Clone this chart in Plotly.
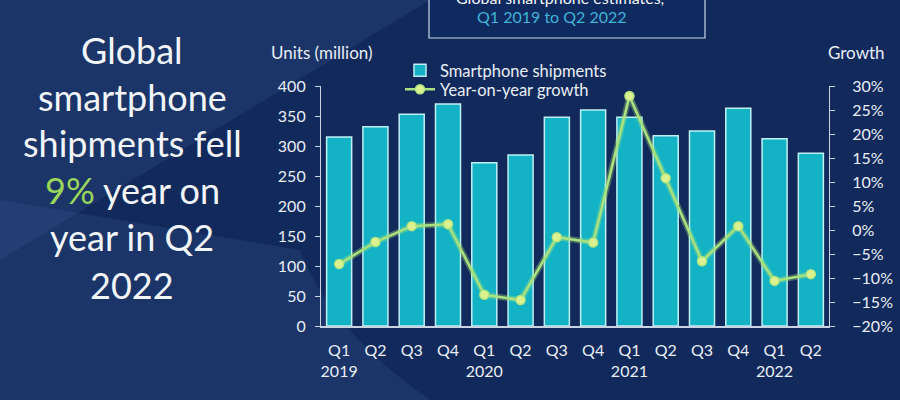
import plotly.graph_objects as go

quarters = ["Q1", "Q2", "Q3", "Q4", "Q1", "Q2", "Q3", "Q4", "Q1", "Q2", "Q3", "Q4", "Q1", "Q2"]
years = ["2019", "", "", "", "2020", "", "", "", "2021", "", "", "", "2022", ""]
shipments = [315, 332, 353, 370, 272, 285, 348, 360, 348, 317, 325, 363, 312, 288]
growth = [-7.1, -2.5, 0.8, 1.2, -13.5, -14.6, -1.5, -2.6, 27.9, 10.8, -6.5, 0.8, -10.6, -9.2]

cats = list(range(len(quarters)))
ticktext = [q + ("<br>" + y if y else "") for q, y in zip(quarters, years)]

W, H = 900, 400
L, R, T, B = 321, 829, 86, 326  # plot area pixel bounds


def px(x):
    return (x - L) / (R - L)


def py(y):
    return (B - y) / (B - T)


FONT = "Lato, Open Sans, sans-serif"
TXT = "#e8eef6"

fig = go.Figure()
fig.add_trace(go.Bar(
    x=cats, y=shipments, name="Smartphone shipments",
    marker=dict(color="#13b3c5", line=dict(color="#bff0f7", width=1.5)),
    yaxis="y", legend="legend",
))
# glow under growth line
fig.add_trace(go.Scatter(
    x=cats, y=growth, yaxis="y2", mode="lines", showlegend=False, hoverinfo="skip",
    line=dict(color="rgba(170,230,120,0.35)", width=6),
))
fig.add_trace(go.Scatter(
    x=cats, y=growth, name="Year-on-year growth", yaxis="y2", mode="lines+markers",
    line=dict(color="#a9e27e", width=2.5),
    marker=dict(size=9, color="#dcf291", line=dict(color="#b3e47f", width=1.5)),
    legend="legend2",
))

shapes = [
    # background diagonal bands
    dict(type="path", xref="paper", yref="paper",
         path=f"M {px(0)},{py(0)} L {px(430)},{py(0)} L {px(0)},{py(260)} Z",
         fillcolor="rgba(60,95,150,0.22)", line=dict(width=0), layer="below"),
    dict(type="path", xref="paper", yref="paper",
         path=f"M {px(0)},{py(400)} L {px(430)},{py(400)} Q {px(330)},{py(330)} {px(300)},{py(250)} L {px(0)},{py(200)} Z",
         fillcolor="rgba(60,95,150,0.22)", line=dict(width=0), layer="below"),
    # title box
    dict(type="rect", xref="paper", yref="paper",
         x0=px(429), x1=px(705), y0=py(38), y1=py(-5),
         fillcolor="#0f2a5e", line=dict(color="#c8d8ea", width=1.2)),
]

ann = []
left_lines = [
    ("Global", 50), ("smartphone", 97), ("shipments fell", 143),
    ("<span style='color:#9bd65a'>9%</span> year on", 190),
    ("year in Q2", 237), ("2022", 285),
]
for text, yy in left_lines:
    ann.append(dict(x=px(132), y=py(yy), xref="paper", yref="paper", text=text,
                    showarrow=False, xanchor="center", yanchor="middle",
                    font=dict(family=FONT, size=36, color="#f2f5f9")))
ann.append(dict(x=px(322), y=py(52), xref="paper", yref="paper", text="Units (million)",
                showarrow=False, xanchor="center", yanchor="middle",
                font=dict(family=FONT, size=17, color=TXT)))
ann.append(dict(x=px(856), y=py(52), xref="paper", yref="paper", text="Growth",
                showarrow=False, xanchor="center", yanchor="middle",
                font=dict(family=FONT, size=17, color=TXT)))
ann.append(dict(x=px(560), y=py(-3), xref="paper", yref="paper",
                text="Global smartphone estimates,",
                showarrow=False, xanchor="center", yanchor="middle",
                font=dict(family=FONT, size=16, color="#f2f5f9")))
ann.append(dict(x=px(552), y=py(17), xref="paper", yref="paper", text="Q1 2019 to Q2 2022",
                showarrow=False, xanchor="center", yanchor="middle",
                font=dict(family=FONT, size=16, color="#3fb4d8")))

legfont = dict(family=FONT, size=16.5, color=TXT)
fig.update_layout(
    width=W, height=H,
    margin=dict(l=L, r=W - R, t=T, b=H - B, pad=0, autoexpand=False),
    paper_bgcolor="#122a5b", plot_bgcolor="rgba(0,0,0,0)",
    font=dict(family=FONT, size=16, color=TXT),
    bargap=0.31,
    showlegend=True,
    legend=dict(x=px(400), y=py(53), xanchor="left", yanchor="top",
                bgcolor="rgba(0,0,0,0)", font=legfont, itemwidth=30),
    legend2=dict(x=px(400), y=py(72), xanchor="left", yanchor="top",
                 bgcolor="rgba(0,0,0,0)", font=legfont, itemwidth=30),
    xaxis=dict(tickmode="array", tickvals=cats, ticktext=ticktext,
               range=[-0.5, len(cats) - 0.5], showgrid=False, zeroline=False,
               showline=True, linecolor="#c9d3e2", linewidth=1.5, automargin=False,
               ticks="", ticklabelstandoff=9, tickfont=dict(size=16, color=TXT)),
    yaxis=dict(range=[0, 400], dtick=50, showgrid=False, zeroline=False,
               showline=True, linecolor="#c9d3e2", linewidth=1.2, automargin=False,
               ticks="outside", ticklen=5, tickcolor="#c9d3e2", ticklabelstandoff=6,
               tickfont=dict(size=16, color=TXT)),
    yaxis2=dict(range=[-20, 30], dtick=5, overlaying="y", side="right",
                showgrid=False, zeroline=False, ticksuffix="%", automargin=False,
                showline=True, linecolor="#c9d3e2", linewidth=1.2,
                ticks="outside", ticklen=5, tickcolor="#c9d3e2", ticklabelstandoff=14,
                tickfont=dict(size=16, color=TXT)),
    shapes=shapes,
    annotations=ann,
)

fig.write_html(
    "out.html",
    config={"displayModeBar": False},
    post_script="document.body.style.margin='0';document.body.style.background='#122a5b';",
)
